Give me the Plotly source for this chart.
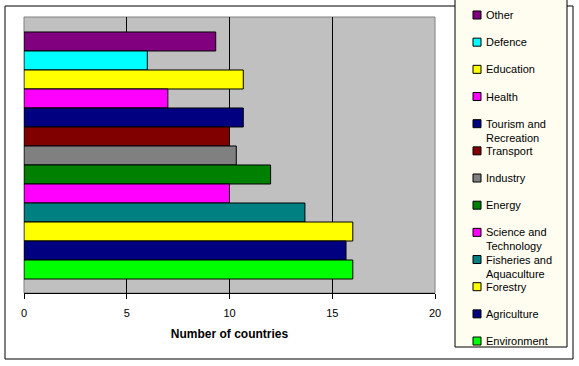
import plotly.graph_objects as go

# ---- data (top of chart first) ----
categories = ["Other", "Defence", "Education", "Health", "Tourism and Recreation",
              "Transport", "Industry", "Energy", "Science and Technology",
              "Fisheries and Aquaculture", "Forestry", "Agriculture", "Environment"]
values = [9.33, 6.0, 10.67, 7.0, 10.67, 10.0, 10.33, 12.0, 10.0, 13.67, 16.0, 15.67, 16.0]
legend_labels = ["Other", "Defence", "Education", "Health", "Tourism and<br>Recreation",
                 "Transport", "Industry", "Energy", "Science and<br>Technology",
                 "Fisheries and<br>Aquaculture", "Forestry", "Agriculture", "Environment"]
colors = ["#800080", "#00FFFF", "#FFFF00", "#FF00FF", "#000080", "#800000", "#808080",
          "#008000", "#FF00FF", "#008080", "#FFFF00", "#000080", "#00FF00"]
x_ticks = [0, 5, 10, 15, 20]

W, H = 579, 366
L, R, T, B = 24, 435, 17, 293


def px(x):
    return (x - L) / (R - L)


def py(y):
    return (B - y) / (B - T)


FONT = "Arial, Liberation Sans, sans-serif"
n = len(categories)

fig = go.Figure()
for i, (cat, val, col) in enumerate(zip(categories, values, colors)):
    fig.add_trace(go.Bar(
        x=[val], y=[n - 1 - i], orientation="h", width=1, name=cat,
        marker=dict(color=col, line=dict(color="black", width=1)),
        showlegend=False,
    ))

shapes = []
annotations = []
# outer chart border
shapes.append(dict(type="rect", xref="paper", yref="paper",
                   x0=px(5), x1=px(573), y0=py(359), y1=py(6),
                   line=dict(color="black", width=1), fillcolor="rgba(0,0,0,0)", layer="below"))
# legend box
shapes.append(dict(type="rect", xref="paper", yref="paper",
                   x0=px(455), x1=px(567), y0=py(347), y1=py(-3),
                   line=dict(color="black", width=1), fillcolor="#FFFCF0", layer="below"))
# plot area border (grey)
shapes.append(dict(type="rect", xref="paper", yref="paper", x0=0, x1=1, y0=0, y1=1,
                   line=dict(color="#808080", width=1), layer="between"))

for i, (lab, col) in enumerate(zip(legend_labels, colors)):
    yc = 15 + i * 27.17
    shapes.append(dict(type="rect", xref="paper", yref="paper",
                       x0=px(473), x1=px(481), y0=py(yc + 4), y1=py(yc - 4),
                       line=dict(color="black", width=1), fillcolor=col, layer="above"))
    annotations.append(dict(xref="paper", yref="paper", x=px(484), y=py(yc - 8),
                            xanchor="left", yanchor="top", align="left", showarrow=False,
                            text=lab, font=dict(family=FONT, size=11, color="black")))

fig.update_layout(
    width=W, height=H,
    margin=dict(l=L, r=W - R, t=T, b=H - B, pad=0),
    paper_bgcolor="white", plot_bgcolor="#C0C0C0",
    barmode="overlay", showlegend=False,
    font=dict(family=FONT, size=11, color="black"),
    shapes=shapes, annotations=annotations,
    xaxis=dict(range=[0, 20], tickvals=x_ticks, ticks="outside", ticklen=5,
               tickcolor="black", showline=True, linecolor="black", linewidth=1,
               showgrid=True, gridcolor="black", gridwidth=1, zeroline=False,
               ticklabelstandoff=5, tickfont=dict(family=FONT, size=11, color="black"),
               title=dict(text="<b>Number of countries</b>", standoff=11,
                          font=dict(family=FONT, size=12, color="black"))),
    yaxis=dict(range=[-1.237, 13.289], showticklabels=False, showgrid=False,
               zeroline=False, showline=False, ticks=""),
)

fig.write_html("out.html", config={"displayModeBar": False},
               post_script="document.body.style.margin='0';document.body.style.overflow='hidden';")
